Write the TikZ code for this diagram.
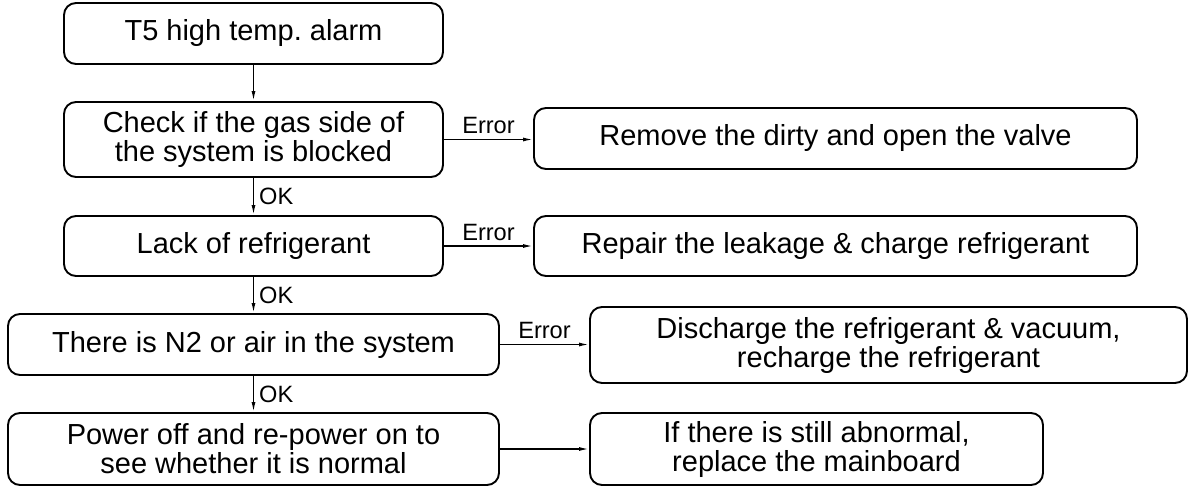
\documentclass[tikz,border=0pt]{standalone}
\usepackage{fontspec}
\setmainfont{Liberation Sans}
\usetikzlibrary{arrows.meta}
\frenchspacing

\begin{document}
\begin{tikzpicture}[x=0.5pt, y=-0.5pt,
  box/.style={draw, line width=0.95pt, rounded corners=6pt, align=center,
    inner sep=0pt, font=\fontsize{14.5}{14.5}\selectfont},
  arr/.style={-{Latex[length=5pt,width=2pt]}, line width=0.7pt},
  lbl/.style={font=\fontsize{11.8}{12}\selectfont, inner sep=2.5pt}]
\useasboundingbox (0,0) rectangle (1189,487);
% left column
\node[box, minimum width=189.5pt, minimum height=30.5pt] (alarm) at (253.5,33.5) {T5 high temp. alarm};
\node[box, minimum width=189.5pt, minimum height=37.5pt] (gas) at (253.5,139.5) {Check if the gas side of\\the system is blocked};
\node[box, minimum width=189.5pt, minimum height=30pt] (lack) at (253.5,246) {Lack of refrigerant};
\node[box, minimum width=245.5pt, minimum height=30.5pt] (air) at (253.5,344.5) {There is N2 or air in the system};
\node[box, minimum width=245.5pt, minimum height=36pt] (repower) at (253.5,449) {Power off and re-power on to\\see whether it is normal};
% right column
\node[box, minimum width=301.5pt, minimum height=30.5pt] (valve) at (835.5,138.5) {Remove the dirty and open the valve};
\node[box, minimum width=301.5pt, minimum height=30pt] (leak) at (835.5,246) {Repair the leakage \& charge refrigerant};
\node[box, minimum width=298.5pt, minimum height=38pt] (vacuum) at (888.5,345) {Discharge the refrigerant \& vacuum,\\recharge the refrigerant};
\node[box, minimum width=226.5pt, minimum height=36pt] (board) at (816.5,449) {If there is still abnormal,\\replace the mainboard};
% connectors
\draw[arr] (alarm) -- (gas);
\draw[arr] (gas) -- node[lbl, right] {OK} (lack);
\draw[arr] (lack) -- node[lbl, right] {OK} (air);
\draw[arr] (air) -- node[lbl, right] {OK} (repower);
\draw[arr] (gas.east) -- node[lbl, above] {Error} (gas.east -| valve.west);
\draw[arr] (lack.east) -- node[lbl, above] {Error} (lack.east -| leak.west);
\draw[arr] (air.east) -- node[lbl, above] {Error} (air.east -| vacuum.west);
\draw[arr] (repower.east) -- (repower.east -| board.west);
\end{tikzpicture}
\end{document}
